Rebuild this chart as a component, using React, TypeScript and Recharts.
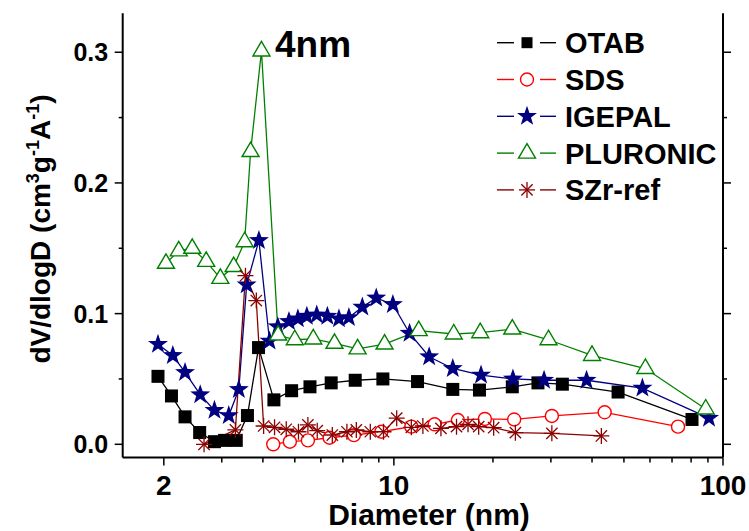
import React from 'react';
import { LineChart, Line, XAxis, YAxis } from 'recharts';

// pore size distributions (diameter in nm, dV/dlogD)
const otabD = [1.92, 2.11, 2.32, 2.57, 2.85, 3.06, 3.32, 3.59, 3.88, 4.32, 4.89, 5.56, 6.45, 7.63, 9.26, 11.8, 15.1, 18.2, 22.9, 27.4, 32.5, 48, 80.5];
const otabV = [0.052, 0.037, 0.021, 0.009, 0.002, 0.003, 0.003, 0.022, 0.074, 0.034, 0.041, 0.044, 0.047, 0.049, 0.05, 0.048, 0.042, 0.0415, 0.044, 0.047, 0.046, 0.04, 0.019];

const sdsD = [4.3, 4.83, 5.48, 6.38, 7.56, 9.16, 11.3, 13.3, 15.65, 18.9, 23.2, 30.2, 43.7, 73];
const sdsV = [0.0, 0.002, 0.003, 0.005, 0.007, 0.0096, 0.0135, 0.0153, 0.0186, 0.0194, 0.019, 0.0217, 0.0245, 0.0135];

const igepalD = [1.92, 2.13, 2.32, 2.58, 2.85, 3.15, 3.38, 3.57, 3.89, 4.19, 4.44, 4.8, 5.11, 5.44, 5.83, 6.28, 6.81, 7.3, 8.02, 8.84, 9.93, 11.16, 12.8, 15.1, 18.4, 23.0, 28.6, 38.5, 56.9, 90.7];
const igepalV = [0.0765, 0.068, 0.055, 0.038, 0.026, 0.022, 0.042, 0.122, 0.156, 0.079, 0.09, 0.094, 0.096, 0.098, 0.099, 0.098, 0.096, 0.097, 0.105, 0.112, 0.107, 0.085, 0.067, 0.058, 0.053, 0.05, 0.049, 0.049, 0.043, 0.02];

const pluronicD = [2.03, 2.22, 2.44, 2.69, 2.97, 3.26, 3.52, 3.67, 3.96, 4.45, 5.0, 5.69, 6.6, 7.76, 9.37, 11.9, 15.2, 18.3, 22.9, 29.5, 40, 58.1, 88.6];
const pluronicV = [0.1385, 0.148, 0.15, 0.14, 0.127, 0.136, 0.155, 0.224, 0.301, 0.0836, 0.08, 0.0806, 0.0773, 0.073, 0.0767, 0.087, 0.0844, 0.0854, 0.0882, 0.08, 0.068, 0.058, 0.027];

const szrD = [2.65, 3.3, 3.54, 3.82, 4.02, 4.34, 4.71, 5.13, 5.48, 5.85, 6.5, 7.2, 7.69, 8.48, 9.3, 10.2, 11.3, 12.25, 13.9, 15.5, 16.8, 18.1, 20.1, 23.4, 30.2, 42.7];
const szrV = [0.0, 0.011, 0.129, 0.11, 0.014, 0.013, 0.0115, 0.0096, 0.0148, 0.0104, 0.0071, 0.0096, 0.011, 0.0096, 0.0096, 0.02, 0.013, 0.014, 0.0122, 0.0135, 0.0153, 0.0135, 0.0127, 0.0089, 0.0084, 0.0064];

const seriesNames = ['OTAB', 'SDS', 'IGEPAL', 'PLURONIC', 'SZr-ref'];

const xTicks = [2, 3, 4, 5, 6, 7, 8, 9, 10, 20, 30, 40, 50, 60, 70, 80, 90, 100];
const xMajor = [2, 10, 100];
const yTicks = [0, 0.05, 0.1, 0.15, 0.2, 0.25, 0.3];
const yMajor = [0, 0.1, 0.2, 0.3];

const FONT = '"Liberation Sans", Arial, sans-serif';
const W = 749;
const H = 531;

const toPoints = (d: number[], v: number[]) => d.map((x, i) => ({ d: x, v: v[i] }));

// marker shapes
const Square = ({ cx, cy, s = 13 }: any) => (
  <rect x={cx - s / 2} y={cy - s / 2} width={s} height={s} fill="#000" />
);
const OpenCircle = ({ cx, cy }: any) => (
  <circle cx={cx} cy={cy} r={6.5} fill="#fff" stroke="#ff0000" strokeWidth={1.4} />
);
const Star = ({ cx, cy, r = 10.5 }: any) => {
  const pts = [];
  for (let i = 0; i < 10; i++) {
    const rad = i % 2 === 0 ? r : r * 0.4;
    const a = -Math.PI / 2 + (i * Math.PI) / 5;
    pts.push(`${cx + rad * Math.cos(a)},${cy + rad * Math.sin(a)}`);
  }
  return <polygon points={pts.join(' ')} fill="#000080" />;
};
const Triangle = ({ cx, cy }: any) => (
  <polygon
    points={`${cx},${cy - 9.5} ${cx - 8.5},${cy + 5} ${cx + 8.5},${cy + 5}`}
    fill="#fff"
    stroke="#008000"
    strokeWidth={1.4}
  />
);
const Asterisk = ({ cx, cy, r = 8 }: any) => {
  const d = r * 0.707;
  return (
    <g stroke="#8b0000" strokeWidth={1.3}>
      <line x1={cx - r} y1={cy} x2={cx + r} y2={cy} />
      <line x1={cx} y1={cy - r} x2={cx} y2={cy + r} />
      <line x1={cx - d} y1={cy - d} x2={cx + d} y2={cy + d} />
      <line x1={cx - d} y1={cy + d} x2={cx + d} y2={cy - d} />
    </g>
  );
};

const dotOf = (Shape: any) => (props: any) => {
  const { cx, cy, index } = props;
  if (cx == null || cy == null) return <g key={`e${index}`} />;
  return <Shape key={`m${index}`} cx={cx} cy={cy} />;
};

const series = [
  { name: seriesNames[0], data: toPoints(otabD, otabV), color: '#000000', Shape: Square },
  { name: seriesNames[1], data: toPoints(sdsD, sdsV), color: '#ff0000', Shape: OpenCircle },
  { name: seriesNames[2], data: toPoints(igepalD, igepalV), color: '#000080', Shape: Star },
  { name: seriesNames[3], data: toPoints(pluronicD, pluronicV), color: '#008000', Shape: Triangle },
  { name: seriesNames[4], data: toPoints(szrD, szrV), color: '#8b0000', Shape: Asterisk },
];

// tick renderers (tickSize/tickMargin are 0, so x/y sit on the axis line)
const BottomTick = ({ x, y, payload }: any) => {
  const major = xMajor.includes(payload.value);
  return (
    <g>
      <line x1={x} y1={y} x2={x} y2={y + (major ? 8 : 5)} stroke="#000" strokeWidth={1.5} />
      {major && (
        <text x={x} y={y + 37.5} textAnchor="middle" fontFamily={FONT} fontWeight="bold" fontSize={28} fill="#000">
          {payload.value}
        </text>
      )}
    </g>
  );
};
const TopTick = ({ x, y, payload }: any) => {
  const major = xMajor.includes(payload.value);
  return <line x1={x} y1={y} x2={x} y2={y - (major ? 6 : 4)} stroke="#000" strokeWidth={1.5} />;
};
const LeftTick = ({ x, y, payload }: any) => {
  const major = yMajor.includes(payload.value);
  return (
    <g>
      <line x1={x} y1={y} x2={x - (major ? 8 : 4)} y2={y} stroke="#000" strokeWidth={1.5} />
      {major && (
        <text x={x - 14.5} y={y} dy="0.36em" textAnchor="end" fontFamily={FONT} fontWeight="bold" fontSize={25} fill="#000">
          {payload.value.toFixed(1)}
        </text>
      )}
    </g>
  );
};
const RightTick = ({ x, y, payload }: any) => {
  const major = yMajor.includes(payload.value);
  return <line x1={x} y1={y} x2={x + (major ? 8 : 4)} y2={y} stroke="#000" strokeWidth={1.5} />;
};

const Overlay = () => (
  <svg width={W} height={H} style={{ position: 'absolute', left: 0, top: 0, pointerEvents: 'none' }}>
    <g fontFamily={FONT} fontWeight="bold" fill="#000">
      <text x={275} y={57} fontSize={37}>4nm</text>
      <text x={429} y={525} fontSize={30} textAnchor="middle">Diameter (nm)</text>
      <text transform="translate(50,229) rotate(-90)" fontSize={28} textAnchor="middle">
        dV/dlogD (cm<tspan dy={-11} fontSize={18}>3</tspan>
        <tspan dy={11}>g</tspan>
        <tspan dy={-11} fontSize={18}>-1</tspan>
        <tspan dy={11}>A</tspan>
        <tspan dy={-11} fontSize={18}>-1</tspan>
        <tspan dy={11}>)</tspan>
      </text>
    </g>
    {series.map((s, i) => {
      const cy = 42.7 + i * 36.8;
      const { Shape } = s;
      return (
        <g key={s.name}>
          <line x1={497} y1={cy} x2={514} y2={cy} stroke={s.color} strokeWidth={1.4} />
          <line x1={540} y1={cy} x2={556} y2={cy} stroke={s.color} strokeWidth={1.4} />
          <Shape cx={527} cy={cy} s={11} />
          <text x={565} y={cy} dy="0.36em" fontFamily={FONT} fontWeight="bold" fontSize={29} fill="#000">
            {s.name}
          </text>
        </g>
      );
    })}
  </svg>
);

export default function App() {
  return (
    <div style={{ position: 'fixed', left: 0, top: 0, width: W, height: H, background: '#fff' }}>
      <LineChart width={W} height={H} margin={{ top: 13.3, right: 0, bottom: 0, left: 0 }}>
        <XAxis
          dataKey="d"
          type="number"
          scale="log"
          domain={[1.5, 100]}
          allowDataOverflow
          ticks={xTicks}
          interval={0}
          height={73.5}
          tickSize={0}
          tickMargin={0}
          tickLine={false}
          tick={<BottomTick />}
          axisLine={{ stroke: '#000', strokeWidth: 2 }}
        />
        <XAxis
          xAxisId="top"
          orientation="top"
          dataKey="d"
          type="number"
          scale="log"
          domain={[1.5, 100]}
          allowDataOverflow
          ticks={xTicks}
          interval={0}
          height={0}
          tickSize={0}
          tickMargin={0}
          tickLine={false}
          tick={<TopTick />}
          axisLine={{ stroke: '#000', strokeWidth: 2 }}
        />
        <YAxis
          type="number"
          domain={[-0.0101, 0.3298]}
          allowDataOverflow
          ticks={yTicks}
          interval={0}
          width={122.7}
          tickSize={0}
          tickMargin={0}
          tickLine={false}
          tick={<LeftTick />}
          axisLine={{ stroke: '#000', strokeWidth: 2 }}
        />
        <YAxis
          yAxisId="right"
          orientation="right"
          type="number"
          domain={[-0.0101, 0.3298]}
          allowDataOverflow
          ticks={yTicks}
          interval={0}
          width={26}
          tickSize={0}
          tickMargin={0}
          tickLine={false}
          tick={<RightTick />}
          axisLine={{ stroke: '#000', strokeWidth: 2 }}
        />
        {series.map((s) => (
          <Line
            key={s.name}
            data={s.data}
            dataKey="v"
            name={s.name}
            type="linear"
            stroke={s.color}
            strokeWidth={1.3}
            dot={dotOf(s.Shape)}
            activeDot={false}
            isAnimationActive={false}
          />
        ))}
      </LineChart>
      <Overlay />
    </div>
  );
}
